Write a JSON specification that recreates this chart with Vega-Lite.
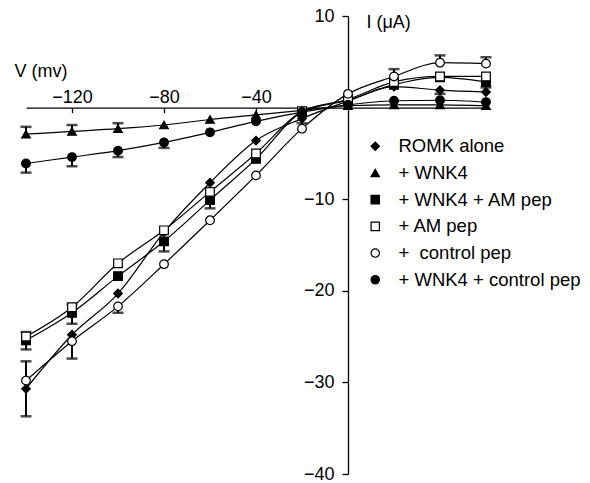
{
  "$schema": "https://vega.github.io/schema/vega-lite/v6.json",
  "width": 460,
  "height": 458,
  "autosize": {"type": "none"},
  "padding": {"left": 26, "top": 16, "right": 104, "bottom": 9},
  "background": "white",
  "config": {
    "view": {"stroke": null},
    "font": "Liberation Sans",
    "axis": {"domainColor": "black", "tickColor": "black", "labelColor": "black", "titleColor": "black", "labelFontSize": 18, "titleFontSize": 18, "titleFontWeight": "normal", "grid": false, "domainWidth": 1.3, "tickWidth": 1.3},
    "legend": {"labelFontSize": 18.5, "labelColor": "black", "labelLimit": 400}
  },
  "datasets": {
    "pts": [
      {"s": "ROMK alone", "V": -140, "I": -30.7}, {"s": "ROMK alone", "V": -120, "I": -24.8}, {"s": "ROMK alone", "V": -100, "I": -20.3}, {"s": "ROMK alone", "V": -80, "I": -13.6}, {"s": "ROMK alone", "V": -60, "I": -8.2}, {"s": "ROMK alone", "V": -40, "I": -3.6}, {"s": "ROMK alone", "V": -20, "I": -1.2}, {"s": "ROMK alone", "V": 0, "I": 0.7}, {"s": "ROMK alone", "V": 20, "I": 2.3}, {"s": "ROMK alone", "V": 40, "I": 1.9}, {"s": "ROMK alone", "V": 60, "I": 1.7},
      {"s": "+ WNK4", "V": -140, "I": -2.9}, {"s": "+ WNK4", "V": -120, "I": -2.6}, {"s": "+ WNK4", "V": -100, "I": -2.3}, {"s": "+ WNK4", "V": -80, "I": -1.9}, {"s": "+ WNK4", "V": -60, "I": -1.3}, {"s": "+ WNK4", "V": -40, "I": -0.8}, {"s": "+ WNK4", "V": -20, "I": -0.3}, {"s": "+ WNK4", "V": 0, "I": 0.2}, {"s": "+ WNK4", "V": 20, "I": 0.3}, {"s": "+ WNK4", "V": 40, "I": 0.3}, {"s": "+ WNK4", "V": 60, "I": 0.2},
      {"s": "+ WNK4 + AM pep", "V": -140, "I": -25.4}, {"s": "+ WNK4 + AM pep", "V": -120, "I": -22.4}, {"s": "+ WNK4 + AM pep", "V": -100, "I": -18.4}, {"s": "+ WNK4 + AM pep", "V": -80, "I": -14.6}, {"s": "+ WNK4 + AM pep", "V": -60, "I": -10.1}, {"s": "+ WNK4 + AM pep", "V": -40, "I": -5.6}, {"s": "+ WNK4 + AM pep", "V": -20, "I": -0.5}, {"s": "+ WNK4 + AM pep", "V": 0, "I": 0.8}, {"s": "+ WNK4 + AM pep", "V": 20, "I": 2.5}, {"s": "+ WNK4 + AM pep", "V": 40, "I": 3.3}, {"s": "+ WNK4 + AM pep", "V": 60, "I": 2.8},
      {"s": "+ AM pep", "V": -140, "I": -25.0}, {"s": "+ AM pep", "V": -120, "I": -21.8}, {"s": "+ AM pep", "V": -100, "I": -17.0}, {"s": "+ AM pep", "V": -80, "I": -13.4}, {"s": "+ AM pep", "V": -60, "I": -9.2}, {"s": "+ AM pep", "V": -40, "I": -5.0}, {"s": "+ AM pep", "V": -20, "I": -0.4}, {"s": "+ AM pep", "V": 0, "I": 0.9}, {"s": "+ AM pep", "V": 20, "I": 2.8}, {"s": "+ AM pep", "V": 40, "I": 3.4}, {"s": "+ AM pep", "V": 60, "I": 3.4},
      {"s": "+\u00a0 control pep", "V": -140, "I": -29.8}, {"s": "+\u00a0 control pep", "V": -120, "I": -25.5}, {"s": "+\u00a0 control pep", "V": -100, "I": -21.7}, {"s": "+\u00a0 control pep", "V": -80, "I": -17.1}, {"s": "+\u00a0 control pep", "V": -60, "I": -12.3}, {"s": "+\u00a0 control pep", "V": -40, "I": -7.4}, {"s": "+\u00a0 control pep", "V": -20, "I": -2.3}, {"s": "+\u00a0 control pep", "V": 0, "I": 1.5}, {"s": "+\u00a0 control pep", "V": 20, "I": 3.4}, {"s": "+\u00a0 control pep", "V": 40, "I": 4.9}, {"s": "+\u00a0 control pep", "V": 60, "I": 4.8},
      {"s": "+ WNK4 + control pep", "V": -140, "I": -6.1}, {"s": "+ WNK4 + control pep", "V": -120, "I": -5.4}, {"s": "+ WNK4 + control pep", "V": -100, "I": -4.7}, {"s": "+ WNK4 + control pep", "V": -80, "I": -3.8}, {"s": "+ WNK4 + control pep", "V": -60, "I": -2.7}, {"s": "+ WNK4 + control pep", "V": -40, "I": -1.5}, {"s": "+ WNK4 + control pep", "V": -20, "I": -0.5}, {"s": "+ WNK4 + control pep", "V": 0, "I": 0.3}, {"s": "+ WNK4 + control pep", "V": 20, "I": 0.75}, {"s": "+ WNK4 + control pep", "V": 40, "I": 0.8}, {"s": "+ WNK4 + control pep", "V": 60, "I": 0.6}
    ],
    "errs": [
      {"s": "ROMK alone", "V": -140, "from": -30.7, "to": -27.7}, {"s": "ROMK alone", "V": -140, "from": -30.7, "to": -33.7}, {"s": "ROMK alone", "V": 40, "from": 1.9, "to": 1.5}, {"s": "ROMK alone", "V": 60, "from": 1.7, "to": 2.2},
      {"s": "+ WNK4", "V": -140, "from": -2.9, "to": -2.1}, {"s": "+ WNK4", "V": -120, "from": -2.6, "to": -1.9}, {"s": "+ WNK4", "V": -100, "from": -2.3, "to": -1.7},
      {"s": "+ WNK4 + AM pep", "V": -140, "from": -25.4, "to": -24.5}, {"s": "+ WNK4 + AM pep", "V": -140, "from": -25.4, "to": -26.4}, {"s": "+ WNK4 + AM pep", "V": -120, "from": -22.4, "to": -21.5}, {"s": "+ WNK4 + AM pep", "V": -120, "from": -22.4, "to": -23.6}, {"s": "+ WNK4 + AM pep", "V": -80, "from": -14.6, "to": -15.7}, {"s": "+ WNK4 + AM pep", "V": -60, "from": -10.1, "to": -11.0}, {"s": "+ WNK4 + AM pep", "V": -20, "from": -0.5, "to": -1.7},
      {"s": "+\u00a0 control pep", "V": -120, "from": -25.5, "to": -27.4}, {"s": "+\u00a0 control pep", "V": -100, "from": -21.7, "to": -22.4}, {"s": "+\u00a0 control pep", "V": 20, "from": 3.4, "to": 4.2}, {"s": "+\u00a0 control pep", "V": 40, "from": 4.9, "to": 5.7}, {"s": "+\u00a0 control pep", "V": 60, "from": 4.8, "to": 5.5},
      {"s": "+ WNK4 + control pep", "V": -140, "from": -6.1, "to": -7.1}, {"s": "+ WNK4 + control pep", "V": -120, "from": -5.4, "to": -6.4}, {"s": "+ WNK4 + control pep", "V": -100, "from": -4.7, "to": -5.4}, {"s": "+ WNK4 + control pep", "V": -80, "from": -3.8, "to": -4.4}
    ]
  },
  "layer": [
    {
      "data": {"name": "pts"},
      "mark": {"type": "line", "interpolate": "monotone", "color": "black", "strokeWidth": 1.2},
      "encoding": {
        "x": {"field": "V", "type": "quantitative", "scale": {"domain": [-140, 60], "nice": false, "zero": false},
          "axis": {"orient": "top", "offset": -91.6, "values": [-120, -80, -40], "tickSize": -5, "labelPadding": 6, "title": "V (mv)", "titleX": -12, "titleY": -36, "titleAlign": "left", "titleBaseline": "middle", "titleAngle": 0}},
        "y": {"field": "I", "type": "quantitative", "scale": {"domain": [-40, 10], "nice": false, "zero": false},
          "axis": {"orient": "left", "offset": -322, "values": [-40, -30, -20, -10, 10], "tickSize": 6, "labelPadding": 8, "title": "I (μA)", "titleX": 18, "titleY": 6, "titleAlign": "left", "titleBaseline": "middle", "titleAngle": 0}},
        "detail": {"field": "s"}
      }
    },
    {
      "data": {"name": "errs"},
      "mark": {"type": "rule", "color": "black", "strokeWidth": 2},
      "encoding": {
        "x": {"field": "V", "type": "quantitative"},
        "y": {"field": "from", "type": "quantitative"},
        "y2": {"field": "to"}
      }
    },
    {
      "data": {"name": "errs"},
      "mark": {"type": "tick", "orient": "horizontal", "color": "black", "size": 11, "thickness": 2.5},
      "encoding": {
        "x": {"field": "V", "type": "quantitative"},
        "y": {"field": "to", "type": "quantitative"}
      }
    },
    {
      "data": {"name": "pts"},
      "mark": {"type": "point", "filled": true, "strokeWidth": 1.2, "opacity": 1, "fillOpacity": 1, "strokeOpacity": 1, "size": 75},
      "encoding": {
        "x": {"field": "V", "type": "quantitative"},
        "y": {"field": "I", "type": "quantitative"},
        "shape": {"field": "s", "type": "nominal", "title": null,
          "scale": {"domain": ["ROMK alone", "+ WNK4", "+ WNK4 + AM pep", "+ AM pep", "+\u00a0 control pep", "+ WNK4 + control pep"], "range": ["diamond", "triangle-up", "square", "square", "circle", "circle"]},
          "legend": {"orient": "none", "legendX": 340, "legendY": 121, "padding": 0, "rowPadding": 7.7, "labelOffset": 14, "symbolStrokeWidth": 1.2, "symbolSize": 70}},
        "fill": {"field": "s", "type": "nominal", "title": null,
          "scale": {"domain": ["ROMK alone", "+ WNK4", "+ WNK4 + AM pep", "+ AM pep", "+\u00a0 control pep", "+ WNK4 + control pep"], "range": ["black", "black", "black", "white", "white", "black"]},
          "legend": {"orient": "none", "legendX": 340, "legendY": 121, "padding": 0, "rowPadding": 7.7, "labelOffset": 14, "symbolStrokeWidth": 1.2, "symbolSize": 70}},
        "stroke": {"field": "s", "type": "nominal", "title": null,
          "scale": {"domain": ["ROMK alone", "+ WNK4", "+ WNK4 + AM pep", "+ AM pep", "+\u00a0 control pep", "+ WNK4 + control pep"], "range": ["black", "black", "black", "black", "black", "black"]},
          "legend": {"orient": "none", "legendX": 340, "legendY": 121, "padding": 0, "rowPadding": 7.7, "labelOffset": 14, "symbolStrokeWidth": 1.2, "symbolSize": 70}}
      }
    }
  ]
}
